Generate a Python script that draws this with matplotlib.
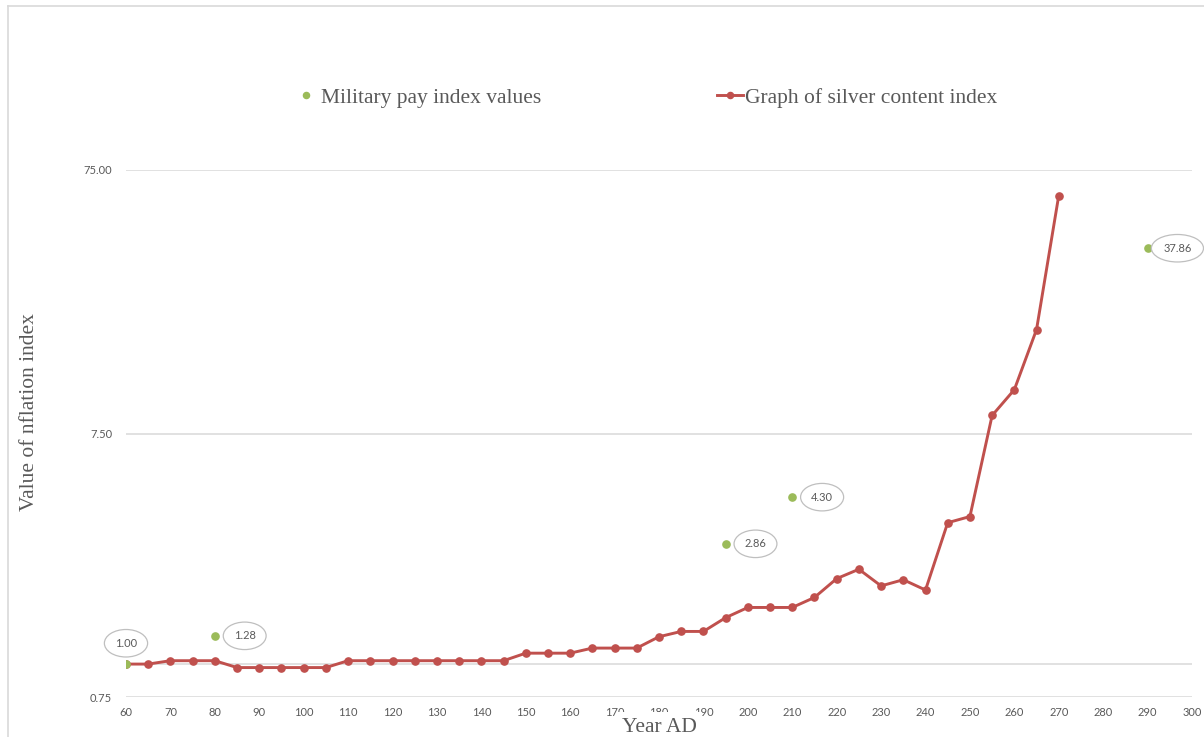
import matplotlib.pyplot as plt
from matplotlib.lines import Line2D

# Silver content index, every 5 years from 60 AD to 270 AD
years = list(range(60, 275, 5))
silver_index = [1.00, 1.00, 1.03, 1.03, 1.03, 0.97, 0.97, 0.97, 0.97, 0.97,
                1.03, 1.03, 1.03, 1.03, 1.03, 1.03, 1.03, 1.03,
                1.10, 1.10, 1.10, 1.15, 1.15, 1.15,
                1.27, 1.33, 1.33, 1.50, 1.64, 1.64, 1.64, 1.79, 2.11, 2.29,
                1.98, 2.09, 1.91, 3.44, 3.63, 8.78, 11.0, 18.6, 60.0]

# Military pay index
pay_years = [60, 80, 195, 210, 290]
pay_index = [1.00, 1.28, 2.86, 4.30, 37.86]

x_ticks = list(range(60, 310, 10))
y_ticks = [0.75, 7.5, 75]
y_tick_labels = ["0.75", "7.50", "75.00"]

GREEN = '#9BBB59'
RED = '#C0504D'
GRID = '#D9D9D9'
TEXT = '#595959'
W, H = 1204, 737

fig = plt.figure(figsize=(W / 100, H / 100), dpi=100)
ax = fig.add_axes([126 / W, 1 - 697 / H, (1192 - 126) / W, (697 - 170) / H])

ax.set_yscale('log')
ax.set_xlim(60, 300)
ax.set_ylim(0.75, 75)
ax.set_xticks(x_ticks)
ax.set_yticks(y_ticks)
ax.set_yticklabels(y_tick_labels)
ax.yaxis.set_minor_locator(plt.NullLocator())
ax.tick_params(length=0, labelsize=8, labelcolor=TEXT, labelfontfamily='Lato')
ax.tick_params(axis='y', pad=10)
ax.tick_params(axis='x', pad=7)
for s in ax.spines.values():
    s.set_visible(False)
ax.grid(axis='y', color=GRID, lw=1.1, zorder=0)
# horizontal axis crosses at 1.0
ax.axhline(1.0, color=GRID, lw=1.1, zorder=1)

ax.plot(years, silver_index, color=RED, lw=2.1, marker='o', ms=5.2,
        label='Graph of silver content index', zorder=3)
ax.plot(pay_years, pay_index, ls='none', color=GREEN, marker='o', ms=5.2,
        label='Military pay index values', zorder=4)

for i, (x, v) in enumerate(zip(pay_years, pay_index)):
    off = (0, 15) if i == 0 else (21.5, 0)
    ax.annotate(f"{v:.2f}", (x, v), xytext=off, textcoords='offset points',
                ha='center', va='center', fontsize=8, color=TEXT, family='Lato',
                bbox=dict(boxstyle='ellipse,pad=0.38', fc='white', ec='#BFBFBF', lw=0.9),
                annotation_clip=False, zorder=5)

handles, labels = ax.get_legend_handles_labels()
fig.legend(handles[::-1], labels[::-1], loc='center left', ncol=2,
           bbox_to_anchor=(293 / W, 1 - 98 / H), frameon=False,
           prop={'family': 'Liberation Serif', 'size': 15.5}, labelcolor=TEXT,
           handlelength=1.2, handletextpad=0.1, columnspacing=8.15,
           borderpad=0, borderaxespad=0, markerscale=0.85)

fig.text(30 / W, 1 - 412 / H, 'Value of nflation index', rotation=90,
         ha='center', va='center', family='Liberation Serif', fontsize=15.5, color=TEXT)
fig.text(659 / W, 1 - 727 / H, 'Year AD', ha='center', va='center',
         family='Liberation Serif', fontsize=15.5, color=TEXT,
         bbox=dict(boxstyle='square,pad=0.25', fc='white', ec='none'))

# chart area outline
fig.add_artist(Line2D([8 / W, 8 / W], [0, 1 - 5.5 / H], color=GRID, lw=1.2))
fig.add_artist(Line2D([8 / W, 1], [1 - 5.5 / H, 1 - 5.5 / H], color=GRID, lw=1.2))

fig.savefig('out.png', dpi=100)
